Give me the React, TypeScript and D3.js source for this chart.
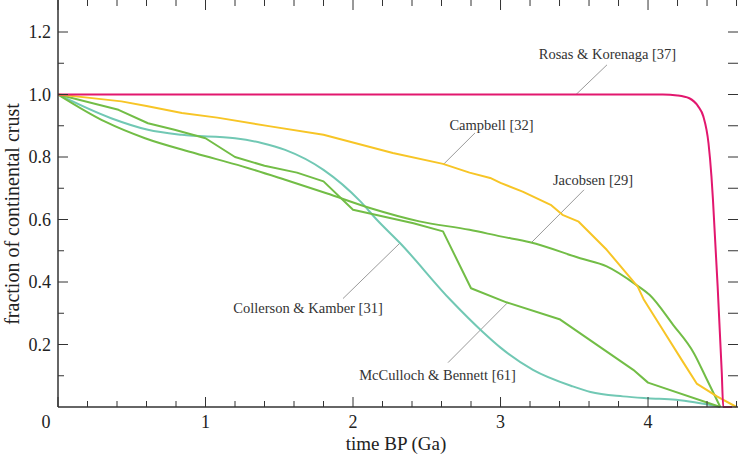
import React, { useEffect } from "react";
import * as d3 from "d3";

type Pt = [number, number];

const rosasKorenaga: Pt[] = [
  [0, 1], [4.1, 1.0], [4.2, 0.997], [4.28, 0.988], [4.34, 0.962], [4.375, 0.93],
  [4.41, 0.844], [4.43, 0.738], [4.44, 0.665], [4.472, 0.386], [4.5, 0.11], [4.51, 0], [4.57, 0],
];
const campbell: Pt[] = [
  [0, 1], [0.2, 0.99], [0.43, 0.978], [0.6, 0.963], [0.84, 0.941], [1.08, 0.926], [1.44, 0.898],
  [1.8, 0.871], [2.27, 0.813], [2.61, 0.778], [2.79, 0.75], [2.93, 0.733], [3.0, 0.717],
  [3.15, 0.689], [3.34, 0.647], [3.42, 0.615], [3.53, 0.593], [3.72, 0.503], [3.93, 0.385],
  [3.97, 0.345], [4.1, 0.247], [4.24, 0.142], [4.33, 0.075], [4.47, 0.033], [4.6, 0.0],
];
const jacobsen: Pt[] = [
  [0, 1], [0.32, 0.913], [0.59, 0.86], [0.93, 0.812], [1.25, 0.77], [1.54, 0.727], [1.82, 0.684],
  [2.12, 0.636], [2.45, 0.594], [2.79, 0.567], [3.0, 0.546], [3.2, 0.527], [3.54, 0.476],
  [3.72, 0.45], [3.92, 0.391], [4.01, 0.359], [4.17, 0.263], [4.31, 0.173], [4.4, 0.087], [4.49, 0],
];
const mccullochBennett: Pt[] = [
  [0, 1], [0.41, 0.951], [0.61, 0.908], [0.79, 0.887], [1.0, 0.86], [1.2, 0.8], [1.4, 0.772],
  [1.62, 0.75], [1.8, 0.722], [2.0, 0.631], [2.41, 0.588], [2.61, 0.562], [2.8, 0.38],
  [3.04, 0.335], [3.4, 0.281], [3.9, 0.119], [4.0, 0.078], [4.49, 0],
];
const collersonKamber: Pt[] = [
  [0, 1], [0.36, 0.924], [0.61, 0.887], [0.84, 0.871], [1.2, 0.86], [1.38, 0.845], [1.54, 0.823],
  [1.8, 0.759], [2.05, 0.658], [2.16, 0.6], [2.32, 0.524], [2.66, 0.343], [2.88, 0.24],
  [3.0, 0.19], [3.22, 0.119], [3.49, 0.066], [3.61, 0.048], [3.83, 0.034], [4.0, 0.028],
  [4.19, 0.023], [4.49, 0],
];

const xMajorTicks = [0, 1, 2, 3, 4];
const xTickLabels = ["0", "1", "2", "3", "4"];
const yMajorTicks = [0.2, 0.4, 0.6, 0.8, 1.0, 1.2];
const yTickLabels = ["0.2", "0.4", "0.6", "0.8", "1.0", "1.2"];

// annotation: label anchor and leader line, in data units
const annotationLabels = [
  "Rosas & Korenaga [37]",
  "Campbell [32]",
  "Jacobsen [29]",
  "Collerson & Kamber [31]",
  "McCulloch & Bennett [61]",
];
const annotationAnchors: Pt[] = [[3.725, 1.114], [2.939, 0.887], [3.627, 0.711], [1.695, 0.302], [2.573, 0.085]];
const leaderStarts: Pt[] = [[3.722, 1.095], [2.827, 0.877], [3.566, 0.695], [1.932, 0.347], [2.644, 0.142]];
const leaderEnds: Pt[] = [[3.512, 1.0], [2.61, 0.775], [3.207, 0.525], [2.319, 0.525], [3.044, 0.332]];

const W = 738;
const H = 455;
const FONT = '"Liberation Serif", "Times New Roman", serif';

export default function App() {
  useEffect(() => {
    document.body.style.margin = "0";
  }, []);

  const x = d3.scaleLinear().domain([0, 4.61]).range([58, 738]);
  const y = d3.scaleLinear().domain([0, 1.3]).range([407, 0.75]);

  const lineSmooth = d3
    .line<Pt>()
    .x((d) => x(d[0]))
    .y((d) => y(d[1]))
    .curve(d3.curveMonotoneX);
  const lineStraight = d3
    .line<Pt>()
    .x((d) => x(d[0]))
    .y((d) => y(d[1]))
    .curve(d3.curveLinear);

  const xMinor = d3.range(0, 4.61, 0.2).filter((v) => Math.abs(v - Math.round(v)) > 1e-6);
  const yMinor = d3.range(0.1, 1.3, 0.2);

  const axisColor = "#333";
  const x0 = x(0);
  const yb = y(0);
  const xr = 738;

  const series: { data: Pt[]; color: string; smooth: boolean }[] = [
    { data: collersonKamber, color: "#71c8b4", smooth: true },
    { data: mccullochBennett, color: "#72bd46", smooth: false },
    { data: jacobsen, color: "#72bd46", smooth: true },
    { data: campbell, color: "#f7c526", smooth: false },
    { data: rosasKorenaga, color: "#e2176e", smooth: true },
  ];

  const textStyle = { fontFamily: FONT } as React.CSSProperties;

  return (
    <svg width={W} height={H} style={{ display: "block", background: "#fff" }}>
      <defs>
        <clipPath id="plot">
          <rect x={x0} y={0} width={xr - x0} height={yb + 1} />
        </clipPath>
      </defs>

      {annotationLabels.map((_, i) => (
        <line
          key={"ld" + i}
          x1={x(leaderStarts[i][0])}
          y1={y(leaderStarts[i][1])}
          x2={x(leaderEnds[i][0])}
          y2={y(leaderEnds[i][1])}
          stroke="#9a9a9a"
          strokeWidth={1}
        />
      ))}

      <g clipPath="url(#plot)">
        {series.map((s, i) => (
          <path
            key={i}
            d={(s.smooth ? lineSmooth : lineStraight)(s.data) || ""}
            fill="none"
            stroke={s.color}
            strokeWidth={2}
            strokeLinejoin="round"
          />
        ))}
      </g>

      <line x1={x0} y1={0} x2={x0} y2={yb} stroke={axisColor} strokeWidth={1.5} />
      <line x1={x0} y1={yb} x2={xr} y2={yb} stroke={axisColor} strokeWidth={1.5} />

      {xMajorTicks.map((t) => (
        <g key={"xm" + t}>
          <line x1={x(t)} x2={x(t)} y1={yb} y2={yb - 10} stroke={axisColor} strokeWidth={1} />
          <line x1={x(t)} x2={x(t)} y1={0} y2={10} stroke={axisColor} strokeWidth={1} />
        </g>
      ))}
      {xMinor.map((t) => (
        <g key={"xn" + t.toFixed(2)}>
          <line x1={x(t)} x2={x(t)} y1={yb} y2={yb - 6} stroke={axisColor} strokeWidth={1} />
          <line x1={x(t)} x2={x(t)} y1={0} y2={6} stroke={axisColor} strokeWidth={1} />
        </g>
      ))}
      {yMajorTicks.map((t) => (
        <g key={"ym" + t}>
          <line x1={x0} x2={x0 + 10} y1={y(t)} y2={y(t)} stroke={axisColor} strokeWidth={1} />
          <line x1={xr} x2={xr - 10} y1={y(t)} y2={y(t)} stroke={axisColor} strokeWidth={1} />
        </g>
      ))}
      {yMinor.map((t) => (
        <g key={"yn" + t.toFixed(2)}>
          <line x1={x0} x2={x0 + 6} y1={y(t)} y2={y(t)} stroke={axisColor} strokeWidth={1} />
          <line x1={xr} x2={xr - 10} y1={y(t)} y2={y(t)} stroke={axisColor} strokeWidth={1} />
        </g>
      ))}

      {xMajorTicks.map((t, i) => (
        <text
          key={"xl" + t}
          x={t === 0 ? x(t) - 12 : x(t)}
          y={428}
          textAnchor="middle"
          style={textStyle}
          fontSize={18}
          fill="#222"
        >
          {xTickLabels[i]}
        </text>
      ))}
      {yMajorTicks.map((t, i) => (
        <text
          key={"yl" + t}
          x={51}
          y={y(t)}
          dy="0.35em"
          textAnchor="end"
          style={textStyle}
          fontSize={18}
          fill="#222"
        >
          {yTickLabels[i]}
        </text>
      ))}

      <text x={396} y={450} textAnchor="middle" style={textStyle} fontSize={19} fill="#222">
        time BP (Ga)
      </text>
      <text
        transform={`translate(19, 214) rotate(-90)`}
        textAnchor="middle"
        style={textStyle}
        fontSize={20}
        fill="#222"
      >
        fraction of continental crust
      </text>

      {annotationLabels.map((label, i) => (
        <text
          key={"al" + i}
          x={x(annotationAnchors[i][0])}
          y={y(annotationAnchors[i][1])}
          textAnchor="middle"
          style={textStyle}
          fontSize={14.5}
          fill="#333"
        >
          {label}
        </text>
      ))}
    </svg>
  );
}
